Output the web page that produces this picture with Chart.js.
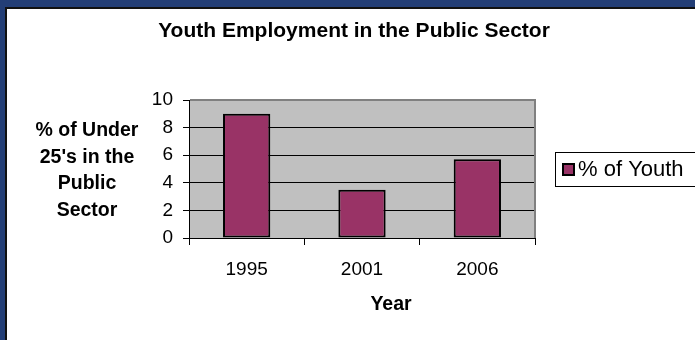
<!DOCTYPE html>
<html><head><meta charset="utf-8">
<script src="https://cdn.jsdelivr.net/npm/chart.js@4/dist/chart.umd.min.js"></script>
<style>
html,body{margin:0;padding:0;background:#233e76;}
#wrap{position:relative;width:695px;height:340px;background:#233e76;overflow:hidden;}
#panel{position:absolute;left:5px;top:7px;width:700px;height:350px;background:#fff;border-left:2px solid #111;border-top:2px solid #111;}
#c{position:absolute;left:0;top:0;}
</style></head>
<body><div id="wrap"><div id="panel"></div><canvas id="c" width="695" height="340"></canvas></div>
<script>
const chartTitle = 'Youth Employment in the Public Sector';
const categories = ['1995', '2001', '2006'];
const seriesLabel = '% of Youth';
const youthShare = [9, 3.5, 5.7];
const yAxisTitleLines = ['% of Under', "25's in the", 'Public', 'Sector'];
const xAxisTitle = 'Year';
const yTicks = [0, 2, 4, 6, 8, 10];

const FONT = '"Liberation Sans", Arial, sans-serif';
const BAR = '#993366';

const decor = {
  id: 'decor',
  beforeDraw(chart) {
    const {ctx, chartArea: a} = chart;
    ctx.save();
    ctx.fillStyle = '#c0c0c0';
    ctx.fillRect(a.left, a.top, a.right - a.left, a.bottom - a.top);
    ctx.restore();
  },
  afterDatasetsDraw(chart) {
    const {ctx, chartArea: a} = chart;
    ctx.save();
    ctx.strokeStyle = '#808080';
    ctx.lineWidth = 2;
    ctx.beginPath();
    ctx.moveTo(a.left + 1, a.top);
    ctx.lineTo(a.right, a.top);
    ctx.lineTo(a.right, a.bottom);
    ctx.stroke();
    ctx.restore();
  },
  afterDraw(chart) {
    const {ctx} = chart;
    ctx.save();
    ctx.fillStyle = '#000';
    ctx.font = 'bold 19.5px ' + FONT;
    ctx.textAlign = 'center';
    ctx.textBaseline = 'middle';
    yAxisTitleLines.forEach((t, i) => ctx.fillText(t, 87, 131 + i * 26.5));
    // x-axis title
    ctx.font = 'bold 19.5px ' + FONT;
    ctx.fillText(xAxisTitle, 391, 305);
    // legend
    ctx.strokeStyle = '#000';
    ctx.lineWidth = 1;
    ctx.fillStyle = '#fff';
    ctx.fillRect(555.5, 152.5, 150, 34);
    ctx.strokeRect(555.5, 152.5, 150, 34);
    const ds = chart.data.datasets[0];
    ctx.fillStyle = ds.backgroundColor;
    ctx.fillRect(562, 163, 13, 13);
    ctx.lineWidth = 2;
    ctx.strokeRect(563, 164, 11, 11);
    ctx.fillStyle = '#000';
    ctx.font = '22px ' + FONT;
    ctx.textAlign = 'left';
    ctx.fillText(ds.label, 578, 170);
    ctx.restore();
  }
};

new Chart(document.getElementById('c'), {
  type: 'bar',
  data: {
    labels: categories,
    datasets: [{
      label: seriesLabel,
      data: youthShare,
      backgroundColor: BAR,
      borderColor: '#000',
      borderWidth: 2,
      borderSkipped: false,
      barPercentage: 0.41,
      categoryPercentage: 1
    }]
  },
  options: {
    responsive: false,
    animation: false,
    devicePixelRatio: 1,
    layout: {padding: {left: 13, right: 0, top: 0, bottom: 0}},
    plugins: {
      legend: {display: false},
      tooltip: {enabled: false},
      title: {
        display: true,
        text: chartTitle,
        color: '#000',
        font: {family: FONT, size: 21, weight: 'bold', lineHeight: 1.2},
        padding: {top: 19, bottom: 55.8}
      }
    },
    scales: {
      x: {
        grid: {display: true, drawOnChartArea: false, drawTicks: true, tickLength: 7, color: '#000', lineWidth: 1, offset: true},
        border: {display: true, color: '#000', width: 1},
        ticks: {color: '#000', font: {family: FONT, size: 19}, padding: 13, maxRotation: 0},
        title: {display: false, text: xAxisTitle},
        afterFit: s => { s.height = 102; }
      },
      y: {
        min: 0, max: 10,
        afterBuildTicks: s => { s.ticks = yTicks.map(v => ({value: v})); },
        grid: {color: '#000', lineWidth: 1, tickLength: 6},
        border: {display: true, color: '#000', width: 1},
        ticks: {color: '#000', font: {family: FONT, size: 19}, padding: 10},
        afterFit: s => { s.width = 176; }
      },
      yR: {
        position: 'right',
        display: true,
        grid: {display: false},
        border: {display: false},
        ticks: {display: false},
        afterFit: s => { s.width = 160; }
      }
    }
  },
  plugins: [decor]
});
</script>
</body></html>
